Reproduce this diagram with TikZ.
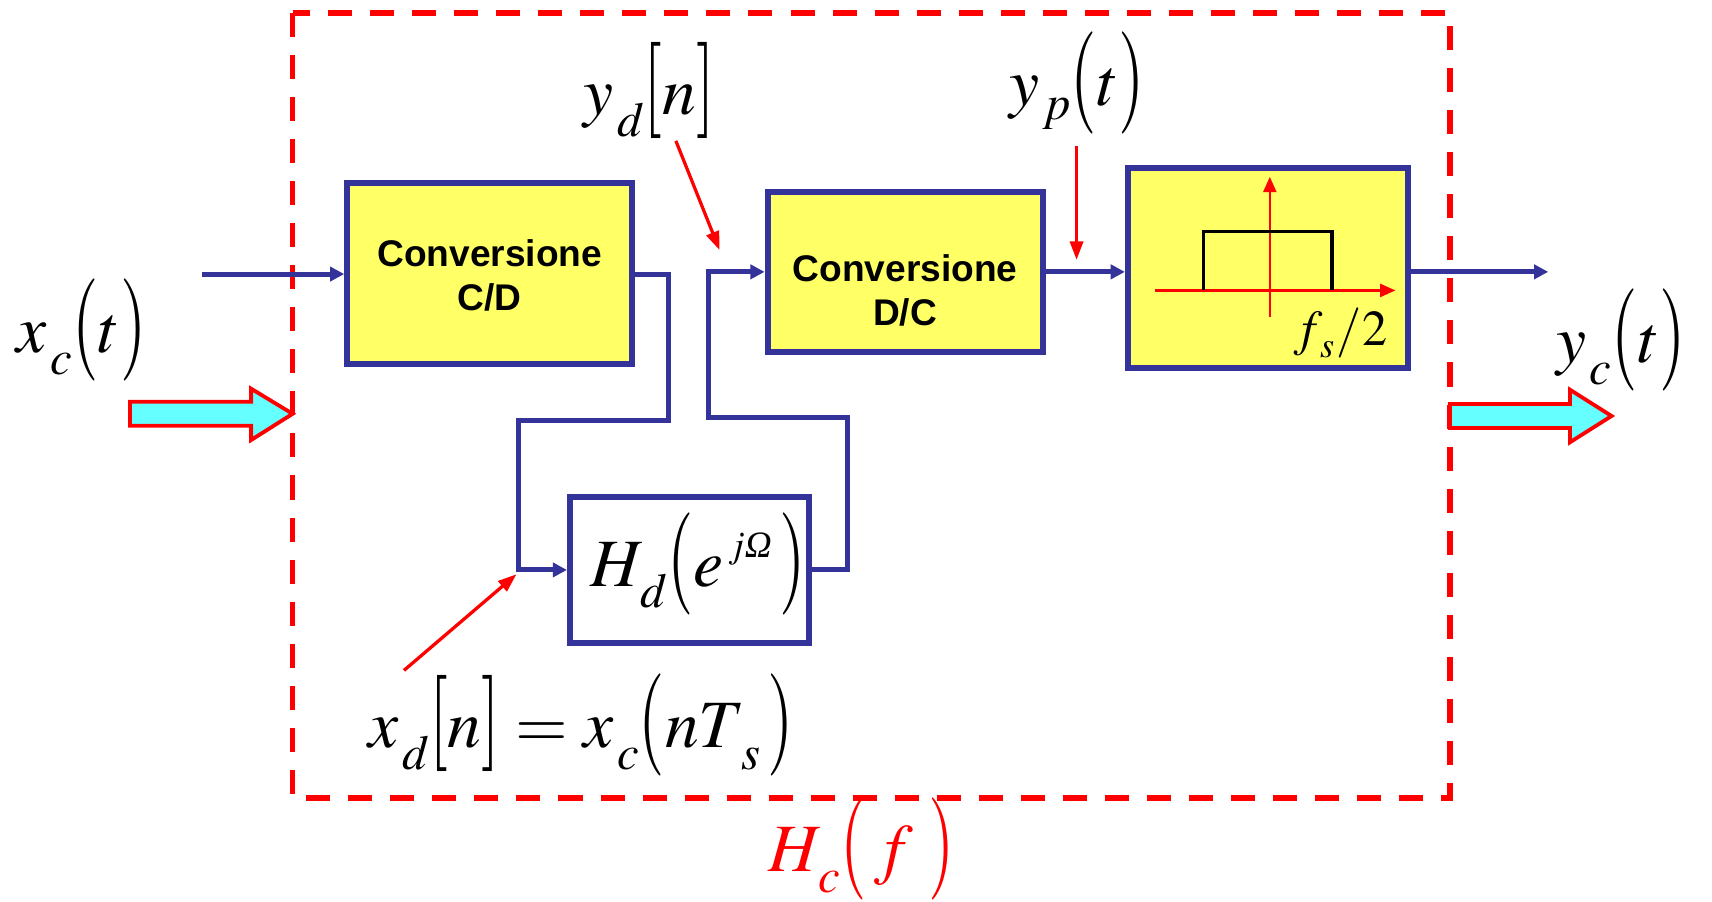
\documentclass[tikz,border=0pt]{standalone}
\usepackage{amsmath}
\usepackage{mathptmx}
\usepackage[no-math]{fontspec}
\usepackage{graphicx}
\newfontfamily\arialb{Liberation Sans}
\newfontfamily\timesf{Liberation Serif}
\usetikzlibrary{arrows.meta}
\definecolor{dblue}{HTML}{333399}
\definecolor{yel}{HTML}{FFFF66}
\definecolor{cyn}{HTML}{66FFFF}
\newcommand\LP{\mathopen{\raisebox{-0.04em}{\scalebox{1}[1.51]{$($}}}}
\newcommand\RP{\mathclose{\raisebox{-0.04em}{\scalebox{1}[1.51]{$)$}}}}
\newcommand\LB{\mathopen{\raisebox{0em}{\scalebox{1}[1.42]{$[$}}}}
\newcommand\RB{\mathclose{\raisebox{0em}{\scalebox{1}[1.42]{$]$}}}}
\newcommand\sbx[2][-0.32em]{\mathord{\mkern1mu\raisebox{#1}{\scalebox{0.72}{$#2$}}}}
\newcommand\eqs{\mathrel{\mkern0mu=\mkern0mu}}
\begin{document}
\begin{tikzpicture}[x=1pt,y=-1pt,
  blk/.style={draw=dblue, line width=5.5pt, fill=yel, inner sep=0pt},
  conn/.style={draw=dblue, line width=4.5pt},
  carr/.style={conn, -{Triangle[length=13pt,width=13pt]}},
  rarr/.style={draw=red, line width=3pt, -{Triangle[length=17pt,width=12pt]}},
  lbl/.style={inner sep=0pt, anchor=base west, font=\fontsize{62}{74}\selectfont},
  btxt/.style={font=\arialb\bfseries\fontsize{34}{40}\selectfont, align=center, inner sep=0pt},
  bigarrow/.style={draw=red, line width=3.5pt, fill=cyn, line join=miter}
]
\useasboundingbox (0,0) rectangle (1568,826);
% dashed enclosure
\draw[red, line width=5pt, dash pattern=on 22pt off 16.5pt] (268,12) rectangle (1328,731);
% blocks
\node[blk, minimum width=261pt, minimum height=165pt] (CD) at (448.5,250.5) {};
\node[btxt] (cdtxt) at (448.5,252) {Conversione\\C/D};
\node[blk, minimum width=252pt, minimum height=147pt] (DC) at (829,249) {};
\node[btxt] (dctxt) at (829,266) {Conversione\\D/C};
\node[blk, minimum width=257pt, minimum height=183pt] (LPF) at (1161.5,245.5) {};
\node[blk, fill=white, minimum width=219pt, minimum height=134pt] (Hd) at (631.5,522) {};
% filter sketch
\draw[red, line width=2pt, -{Triangle[length=14pt,width=12pt]}] (1058,266) -- (1278,266);
\draw[red, line width=2pt, -{Triangle[length=14pt,width=12pt]}] (1163,290) -- (1163,162);
\draw[black, line width=3pt] (1102,266) -- (1102,212) -- (1220,212) -- (1220,266);
\node[inner sep=0pt, anchor=base west, font=\fontsize{46}{56}\selectfont] (fs) at (1185,316) {$f\mkern-2mu\sbx[-0.25em]{s}\mkern1mu/2$};
% connectors
\coordinate (in) at (185,251);
\draw[carr] (in) -- (CD.west |- in);
\coordinate (a1) at (612,251);
\coordinate (a2) at (612,385);
\coordinate (a3) at (475,385);
\draw[carr] (CD.east |- a1) -- (a1) -- (a2) -- (a3) |- (Hd.west);
\coordinate (b1) at (776,522);
\coordinate (b2) at (776,382);
\coordinate (b3) at (649,382);
\coordinate (b4) at (649,249);
\draw[carr] (Hd.east) -- (b1) -- (b2) -- (b3) -- (b4) -- (DC.west);
\draw[carr] (DC.east) -- (LPF.west |- DC.east);
\coordinate (out) at (1418,249);
\draw[carr] (LPF.east |- out) -- (out);
% labels
\node[lbl] (xc) at (15,323) {$x\sbx{c}\LP t\RP$};
\node[lbl] (yd) at (534,105) {$y\sbx{d}\LB n\RB$};
\node[lbl] (yp) at (924,97) {$y\sbx[-0.2em]{p}\LP t\RP$};
\node[lbl] (yc) at (1425,332) {$y\sbx{c}\LP t\RP$};
\node[lbl] (xd) at (337,685) {$x\sbx{d}\LB n\RB\eqs x\sbx{c}\LP nT\mkern-2mu\sbx{s}\,\RP$};
\node[lbl] (Hdl) at (541,537) {$H\mkern-2mu\sbx{d}\LP e\mathord{\raisebox{0.42em}{\scalebox{0.55}{$\,j\text{\timesf\itshape Ω}$}}}\mkern2mu\RP$};
\node[lbl, text=red] (Hc) at (704,798) {$H\mkern-2mu\sbx{c}\LP\, f\;\RP$};
% red pointer arrows
\coordinate (p1) at (619,129);
\coordinate (p1e) at (659,229);
\draw[rarr] (p1) -- (p1e);
\coordinate (p2) at (986,134);
\coordinate (p2e) at (986,238);
\draw[rarr] (p2) -- (p2e);
\coordinate (p3) at (370,614);
\coordinate (p3e) at (473,526);
\draw[rarr] (p3) -- (p3e);
% big cyan arrows
\draw[bigarrow] (119,368) -- (230,368) -- (230,356) -- (268,379) -- (230,403) -- (230,390) -- (119,390) -- cycle;
\draw[bigarrow] (1328,370) -- (1438,370) -- (1438,357) -- (1476,381) -- (1438,405) -- (1438,392) -- (1328,392) -- cycle;
\end{tikzpicture}
\end{document}
